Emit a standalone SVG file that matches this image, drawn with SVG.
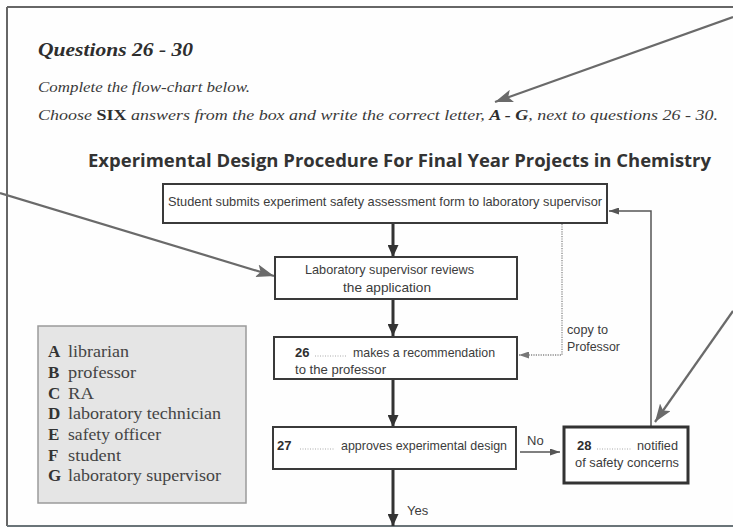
<svg xmlns="http://www.w3.org/2000/svg" width="733" height="528" viewBox="0 0 733 528">
<style>
.box{fill:#fff;stroke:#3a3a3a;stroke-width:2}
.box5{fill:#fff;stroke:#333;stroke-width:3}
.bt{font-family:"Liberation Sans",Arial,sans-serif;font-size:13px;fill:#3c3c3c}
.bn{font-family:"Liberation Sans",Arial,sans-serif;font-size:13px;font-weight:bold;fill:#2e2e2e}
.dots{stroke:#aaa;stroke-width:1;stroke-dasharray:1 1.5}
.flow{stroke:#333;stroke-width:3;fill:none}
.thin{stroke:#555;stroke-width:1.5;fill:none}
.dot{stroke:#888;stroke-width:1.3;stroke-dasharray:1.2 1.2;fill:none}
.call{stroke:#6a6a6a;stroke-width:2.2;fill:none}
.it{font-family:"Liberation Serif","Times New Roman",serif;font-style:italic;font-size:14px;fill:#3a3a3a}
.leg{font-family:"Liberation Serif","Times New Roman",serif;font-size:17px;fill:#444}
.legb{font-weight:bold;fill:#333}
</style>
<defs>
<marker id="hf" markerUnits="userSpaceOnUse" markerWidth="12" markerHeight="11" refX="12" refY="5.5" orient="auto"><path d="M0,0 L12,5.5 L0,11 z" fill="#333"/></marker>
<marker id="ht" markerUnits="userSpaceOnUse" markerWidth="10" markerHeight="7" refX="10" refY="3.5" orient="auto"><path d="M0,0 L10,3.5 L0,7 z" fill="#555"/></marker>
<marker id="hd" markerUnits="userSpaceOnUse" markerWidth="10" markerHeight="7" refX="10" refY="3.5" orient="auto"><path d="M0,0 L10,3.5 L0,7 z" fill="#777"/></marker>
<marker id="hc" markerUnits="userSpaceOnUse" markerWidth="18" markerHeight="13" refX="18" refY="6.5" orient="auto"><path d="M0,0 L18,6.5 L0,13 L4,6.5 z" fill="#6a6a6a"/></marker>
</defs>
<rect width="733" height="528" fill="#fefefe"/>
<g id="frame" stroke="#666" stroke-width="2" fill="none">
<line x1="7" y1="7" x2="733" y2="7"/>
<line x1="7" y1="7" x2="7" y2="526"/>
<line x1="7" y1="526" x2="733" y2="526" stroke="#6a7478"/>
</g>
<g id="heading">
<text x="38" y="56" font-family="'Liberation Serif','Times New Roman',serif" font-style="italic" font-weight="bold" font-size="19" fill="#2e2e2e" textLength="155" lengthAdjust="spacingAndGlyphs">Questions 26 - 30</text>
<text class="it" x="38" y="92" textLength="212" lengthAdjust="spacingAndGlyphs">Complete the flow-chart below.</text>
<text class="it" x="38" y="120" textLength="680" lengthAdjust="spacingAndGlyphs">Choose <tspan font-weight="bold" font-style="normal" fill="#2e2e2e">SIX</tspan> answers from the box and write the correct letter, <tspan font-weight="bold" fill="#2e2e2e">A - G</tspan>, next to questions 26 - 30.</text>
<text x="88" y="167" font-family="'Open Sans','Noto Sans',sans-serif" font-weight="bold" font-size="18" fill="#333" textLength="623" lengthAdjust="spacingAndGlyphs">Experimental Design Procedure For Final Year Projects in Chemistry</text>
</g>
<g id="connectors">
<line class="flow" x1="393" y1="224" x2="393" y2="257" marker-end="url(#hf)"/>
<line class="flow" x1="393" y1="300" x2="393" y2="336" marker-end="url(#hf)"/>
<line class="flow" x1="393" y1="380" x2="393" y2="427" marker-end="url(#hf)"/>
<line class="flow" x1="393" y1="470" x2="393" y2="526" marker-end="url(#hf)"/>
<line class="thin" x1="520" y1="452" x2="560" y2="452" marker-end="url(#ht)"/>
<polyline class="thin" points="651,426 651,211 609,211" marker-end="url(#ht)"/>
<polyline class="dot" points="562,224 562,355 519,355" marker-end="url(#hd)"/>
<line class="call" x1="733" y1="17" x2="495" y2="102" marker-end="url(#hc)"/>
<line class="call" x1="0" y1="193" x2="274" y2="276" marker-end="url(#hc)"/>
<line class="call" x1="733" y1="311" x2="655" y2="422" marker-end="url(#hc)"/>
<text class="bt" x="527" y="445">No</text>
<text class="bt" x="407" y="515">Yes</text>
<text class="bt" x="567" y="334" textLength="41" lengthAdjust="spacingAndGlyphs">copy to</text>
<text class="bt" x="567" y="351" textLength="53" lengthAdjust="spacingAndGlyphs">Professor</text>
</g>
<g id="n1">
<rect class="box" x="163" y="184" width="444" height="39"/>
<text class="bt" x="168" y="206" textLength="434" lengthAdjust="spacingAndGlyphs">Student submits experiment safety assessment form to laboratory supervisor</text>
</g>
<g id="n2">
<rect class="box" x="275" y="257" width="242" height="42"/>
<text class="bt" x="305" y="274" textLength="169" lengthAdjust="spacingAndGlyphs">Laboratory supervisor reviews</text>
<text class="bt" x="343" y="292" textLength="88" lengthAdjust="spacingAndGlyphs">the application</text>
</g>
<g id="n3">
<rect class="box" x="274" y="337" width="243" height="42"/>
<text class="bn" x="295" y="357">26</text>
<line class="dots" x1="315" y1="356" x2="347" y2="356"/>
<text class="bt" x="353" y="357" textLength="142" lengthAdjust="spacingAndGlyphs">makes a recommendation</text>
<text class="bt" x="295" y="374" textLength="91" lengthAdjust="spacingAndGlyphs">to the professor</text>
</g>
<g id="n4">
<rect class="box" x="273" y="427" width="243" height="42"/>
<text class="bn" x="277" y="450">27</text>
<line class="dots" x1="300" y1="449" x2="335" y2="449"/>
<text class="bt" x="341" y="450" textLength="166" lengthAdjust="spacingAndGlyphs">approves experimental design</text>
</g>
<g id="n5">
<rect class="box5" x="564" y="427" width="124" height="56"/>
<text class="bn" x="577" y="450">28</text>
<line class="dots" x1="597" y1="449" x2="632" y2="449"/>
<text class="bt" x="637" y="450" textLength="41" lengthAdjust="spacingAndGlyphs">notified</text>
<text class="bt" x="575" y="467" textLength="104" lengthAdjust="spacingAndGlyphs">of safety concerns</text>
</g>
<g id="legend">
<rect x="38" y="326" width="208" height="177" fill="#e5e5e5" stroke="#9a9a9a" stroke-width="1.5"/>
<text class="leg" y="357"><tspan class="legb" x="48">A</tspan><tspan x="68" textLength="61" lengthAdjust="spacingAndGlyphs">librarian</tspan></text>
<text class="leg" y="378"><tspan class="legb" x="48">B</tspan><tspan x="68" textLength="68" lengthAdjust="spacingAndGlyphs">professor</tspan></text>
<text class="leg" y="399"><tspan class="legb" x="48">C</tspan><tspan x="68" textLength="26" lengthAdjust="spacingAndGlyphs">RA</tspan></text>
<text class="leg" y="419"><tspan class="legb" x="48">D</tspan><tspan x="68" textLength="153" lengthAdjust="spacingAndGlyphs">laboratory technician</tspan></text>
<text class="leg" y="440"><tspan class="legb" x="48">E</tspan><tspan x="68" textLength="93" lengthAdjust="spacingAndGlyphs">safety officer</tspan></text>
<text class="leg" y="461"><tspan class="legb" x="48">F</tspan><tspan x="68" textLength="53" lengthAdjust="spacingAndGlyphs">student</tspan></text>
<text class="leg" y="481"><tspan class="legb" x="48">G</tspan><tspan x="68" textLength="153" lengthAdjust="spacingAndGlyphs">laboratory supervisor</tspan></text>
</g>
</svg>
